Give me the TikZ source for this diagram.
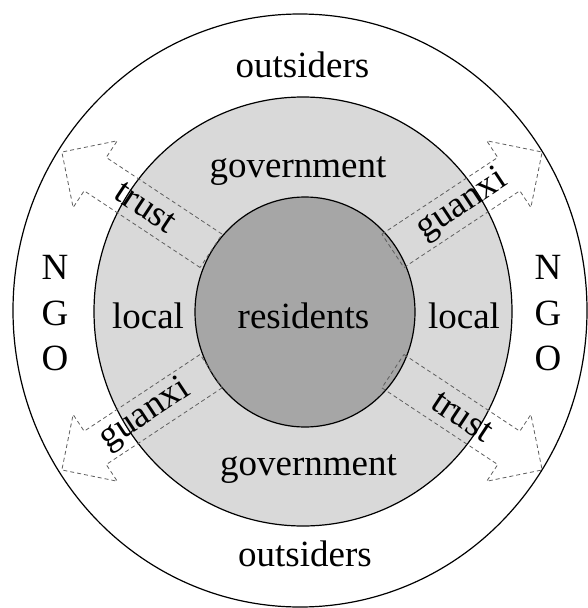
\documentclass[tikz,border=0pt]{standalone}
\usepackage{fontspec}
\setmainfont{Liberation Serif}
\usetikzlibrary{shapes.geometric}
\definecolor{ringgray}{RGB}{217,217,217}
\definecolor{coregray}{RGB}{166,166,166}
\definecolor{dashgray}{RGB}{95,95,95}
\begin{document}
\begin{tikzpicture}[x=1pt,y=-1pt,
  zone/.style={ellipse, draw=black, line width=1.2pt, inner sep=0pt},
  lbl/.style={font=\fontsize{37}{44}\selectfont, anchor=base, inner sep=0pt},
  flow/.style={draw=dashgray, dash pattern=on 4pt off 3pt, line width=0.8pt},
  alabel/.style={font=\fontsize{37}{44}\selectfont, inner sep=0pt}]
\useasboundingbox (0,0) rectangle (588,608);
\fill[white] (0,0) rectangle (588,608);
% zones
\node[zone, fill=white, minimum width=574pt, minimum height=593pt] (outer) at (300,310.5) {};
\node[zone, fill=ringgray, minimum width=418pt, minimum height=429pt] (ring) at (303,311.5) {};
\node[zone, fill=coregray, minimum width=220pt, minimum height=230pt] (core) at (305,312) {};
% arrows
\begin{scope}[shift={(302,311)}, rotate=146.5]
\draw[flow] (109,-20) -- (248,-20) -- (248,-40) -- (288,0) -- (248,40) -- (248,20) -- (109,20) -- cycle;
\node[alabel, rotate=-33.5] (lblTL) at (188,0) {trust};
\end{scope}
\begin{scope}[shift={(302,311)}, rotate=33.5]
\draw[flow] (109,-20) -- (248,-20) -- (248,-40) -- (288,0) -- (248,40) -- (248,20) -- (109,20) -- cycle;
\node[alabel, rotate=33.5] (lblTR) at (192,0) {guanxi};
\end{scope}
\begin{scope}[shift={(302,311)}, rotate=213.5]
\draw[flow] (109,-20) -- (248,-20) -- (248,-40) -- (288,0) -- (248,40) -- (248,20) -- (109,20) -- cycle;
\node[alabel, rotate=33.5] (lblBL) at (188,0) {guanxi};
\end{scope}
\begin{scope}[shift={(302,311)}, rotate=-33.5]
\draw[flow] (109,-20) -- (248,-20) -- (248,-40) -- (288,0) -- (248,40) -- (248,20) -- (109,20) -- cycle;
\node[alabel, rotate=-33.5] (lblBR) at (192,0) {trust};
\end{scope}
% texts
\node[lbl] (outTop) at (302.5,77) {outsiders};
\node[lbl] (govTop) at (298,177) {government};
\node[lbl] (locL) at (148,328) {local};
\node[lbl] (res) at (303.5,328) {residents};
\node[lbl] (locR) at (464,328) {local};
\node[lbl] (govBot) at (308.5,475) {government};
\node[lbl] (outBot) at (305,566) {outsiders};
\node[lbl] (nL1) at (55,279) {N};
\node[lbl] (nL2) at (55,325) {G};
\node[lbl] (nL3) at (55,370) {O};
\node[lbl] (nR1) at (548,279) {N};
\node[lbl] (nR2) at (548,325) {G};
\node[lbl] (nR3) at (548,370) {O};
\end{tikzpicture}
\end{document}
